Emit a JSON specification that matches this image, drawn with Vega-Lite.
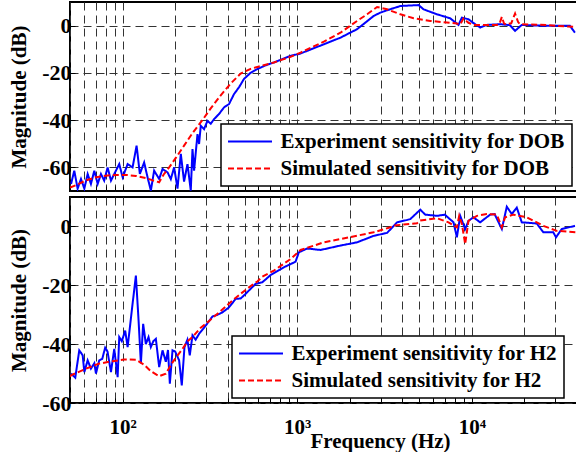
{
  "$schema": "https://vega.github.io/schema/vega-lite/v6.json",
  "padding": {"left": 7, "top": 1, "right": 0, "bottom": 0},
  "background": "white",
  "bounds": "flush",
  "spacing": 6,
  "datasets": {
    "dob": [
      {"s":"Experiment sensitivity for DOB","f":50.7,"db":-67},{"s":"Experiment sensitivity for DOB","f":52.9,"db":-61.4},{"s":"Experiment sensitivity for DOB","f":55.3,"db":-69},{"s":"Experiment sensitivity for DOB","f":57.8,"db":-64.9},{"s":"Experiment sensitivity for DOB","f":60.4,"db":-69},{"s":"Experiment sensitivity for DOB","f":63.1,"db":-62.8},{"s":"Experiment sensitivity for DOB","f":65.9,"db":-67},{"s":"Experiment sensitivity for DOB","f":68.9,"db":-61.4},{"s":"Experiment sensitivity for DOB","f":72,"db":-67},{"s":"Experiment sensitivity for DOB","f":75.2,"db":-62.8},{"s":"Experiment sensitivity for DOB","f":78.5,"db":-65.6},{"s":"Experiment sensitivity for DOB","f":82.1,"db":-60},{"s":"Experiment sensitivity for DOB","f":85.8,"db":-65.6},{"s":"Experiment sensitivity for DOB","f":91.6,"db":-61.4},{"s":"Experiment sensitivity for DOB","f":95.7,"db":-58.6},{"s":"Experiment sensitivity for DOB","f":100.1,"db":-64.2},{"s":"Experiment sensitivity for DOB","f":106.9,"db":-58.6},{"s":"Experiment sensitivity for DOB","f":114.1,"db":-60},{"s":"Experiment sensitivity for DOB","f":120.3,"db":-50.8},{"s":"Experiment sensitivity for DOB","f":125.6,"db":-62.8},{"s":"Experiment sensitivity for DOB","f":132.9,"db":-57.9},{"s":"Experiment sensitivity for DOB","f":139,"db":-64.2},{"s":"Experiment sensitivity for DOB","f":145.2,"db":-69.8},{"s":"Experiment sensitivity for DOB","f":151.6,"db":-61.4},{"s":"Experiment sensitivity for DOB","f":162,"db":-64.9},{"s":"Experiment sensitivity for DOB","f":169.4,"db":-60.7},{"s":"Experiment sensitivity for DOB","f":180.9,"db":-62.1},{"s":"Experiment sensitivity for DOB","f":188.9,"db":-65},{"s":"Experiment sensitivity for DOB","f":197.3,"db":-60},{"s":"Experiment sensitivity for DOB","f":206.3,"db":-69},{"s":"Experiment sensitivity for DOB","f":215.5,"db":-54.3},{"s":"Experiment sensitivity for DOB","f":225,"db":-66},{"s":"Experiment sensitivity for DOB","f":235.3,"db":-58.6},{"s":"Experiment sensitivity for DOB","f":245.8,"db":-69.8},{"s":"Experiment sensitivity for DOB","f":251.4,"db":-52.2},{"s":"Experiment sensitivity for DOB","f":256.7,"db":-61.4},{"s":"Experiment sensitivity for DOB","f":268.5,"db":-45.9},{"s":"Experiment sensitivity for DOB","f":274.2,"db":-50.1},{"s":"Experiment sensitivity for DOB","f":280.4,"db":-42.4},{"s":"Experiment sensitivity for DOB","f":292.8,"db":-43.8},{"s":"Experiment sensitivity for DOB","f":306.2,"db":-40.3},{"s":"Experiment sensitivity for DOB","f":320,"db":-41.5},{"s":"Experiment sensitivity for DOB","f":334,"db":-39.6},{"s":"Experiment sensitivity for DOB","f":356.7,"db":-37.4},{"s":"Experiment sensitivity for DOB","f":381,"db":-34.6},{"s":"Experiment sensitivity for DOB","f":406.9,"db":-33.2},{"s":"Experiment sensitivity for DOB","f":434.6,"db":-29},{"s":"Experiment sensitivity for DOB","f":465,"db":-26},{"s":"Experiment sensitivity for DOB","f":495.4,"db":-22.6},{"s":"Experiment sensitivity for DOB","f":540,"db":-20},{"s":"Experiment sensitivity for DOB","f":591,"db":-18.4},{"s":"Experiment sensitivity for DOB","f":660,"db":-16.8},{"s":"Experiment sensitivity for DOB","f":735,"db":-15.6},{"s":"Experiment sensitivity for DOB","f":820,"db":-14.2},{"s":"Experiment sensitivity for DOB","f":916,"db":-12.8},{"s":"Experiment sensitivity for DOB","f":1045,"db":-11.8},{"s":"Experiment sensitivity for DOB","f":1220,"db":-9.8},{"s":"Experiment sensitivity for DOB","f":1421,"db":-7.9},{"s":"Experiment sensitivity for DOB","f":1768,"db":-5.1},{"s":"Experiment sensitivity for DOB","f":2203,"db":-1.5},{"s":"Experiment sensitivity for DOB","f":2741,"db":4.1},{"s":"Experiment sensitivity for DOB","f":2993,"db":5.5},{"s":"Experiment sensitivity for DOB","f":3270,"db":6.5},{"s":"Experiment sensitivity for DOB","f":3896,"db":8.3},{"s":"Experiment sensitivity for DOB","f":4955,"db":8.7},{"s":"Experiment sensitivity for DOB","f":5291,"db":6.9},{"s":"Experiment sensitivity for DOB","f":6313,"db":4.8},{"s":"Experiment sensitivity for DOB","f":7518,"db":3.1},{"s":"Experiment sensitivity for DOB","f":8385,"db":0.3},{"s":"Experiment sensitivity for DOB","f":8768,"db":3.4},{"s":"Experiment sensitivity for DOB","f":9562,"db":2.7},{"s":"Experiment sensitivity for DOB","f":10444,"db":0.6},{"s":"Experiment sensitivity for DOB","f":11155,"db":-0.8},{"s":"Experiment sensitivity for DOB","f":12187,"db":0.3},{"s":"Experiment sensitivity for DOB","f":14520,"db":0.6},{"s":"Experiment sensitivity for DOB","f":16500,"db":0.2},{"s":"Experiment sensitivity for DOB","f":17680,"db":-2.2},{"s":"Experiment sensitivity for DOB","f":19310,"db":0.3},{"s":"Experiment sensitivity for DOB","f":26830,"db":-0.1},{"s":"Experiment sensitivity for DOB","f":31960,"db":-0.1},{"s":"Experiment sensitivity for DOB","f":36460,"db":-0.1},{"s":"Experiment sensitivity for DOB","f":38940,"db":-3.0},
      {"s":"Simulated sensitivity for DOB","f":50,"db":-68.6},{"s":"Simulated sensitivity for DOB","f":54.1,"db":-67.5},{"s":"Simulated sensitivity for DOB","f":61.8,"db":-65.5},{"s":"Simulated sensitivity for DOB","f":70.4,"db":-64.2},{"s":"Simulated sensitivity for DOB","f":80.3,"db":-63.5},{"s":"Simulated sensitivity for DOB","f":91.6,"db":-63.2},{"s":"Simulated sensitivity for DOB","f":104.5,"db":-63.2},{"s":"Simulated sensitivity for DOB","f":119.2,"db":-63.6},{"s":"Simulated sensitivity for DOB","f":135.9,"db":-64.5},{"s":"Simulated sensitivity for DOB","f":148.9,"db":-65.5},{"s":"Simulated sensitivity for DOB","f":162,"db":-66.3},{"s":"Simulated sensitivity for DOB","f":172,"db":-63},{"s":"Simulated sensitivity for DOB","f":184.8,"db":-60},{"s":"Simulated sensitivity for DOB","f":201.7,"db":-56},{"s":"Simulated sensitivity for DOB","f":225,"db":-50.8},{"s":"Simulated sensitivity for DOB","f":251.4,"db":-45.5},{"s":"Simulated sensitivity for DOB","f":286.6,"db":-40},{"s":"Simulated sensitivity for DOB","f":319.7,"db":-35},{"s":"Simulated sensitivity for DOB","f":364.8,"db":-29.5},{"s":"Simulated sensitivity for DOB","f":416,"db":-24.5},{"s":"Simulated sensitivity for DOB","f":474.3,"db":-20.3},{"s":"Simulated sensitivity for DOB","f":541,"db":-18.3},{"s":"Simulated sensitivity for DOB","f":591,"db":-17.5},{"s":"Simulated sensitivity for DOB","f":735,"db":-15.6},{"s":"Simulated sensitivity for DOB","f":916,"db":-13.2},{"s":"Simulated sensitivity for DOB","f":1045,"db":-11.4},{"s":"Simulated sensitivity for DOB","f":1421,"db":-6.8},{"s":"Simulated sensitivity for DOB","f":1768,"db":-3.0},{"s":"Simulated sensitivity for DOB","f":2203,"db":2.0},{"s":"Simulated sensitivity for DOB","f":2513,"db":4.8},{"s":"Simulated sensitivity for DOB","f":2866,"db":7.9},{"s":"Simulated sensitivity for DOB","f":3270,"db":6.9},{"s":"Simulated sensitivity for DOB","f":3896,"db":4.8},{"s":"Simulated sensitivity for DOB","f":4640,"db":3.1},{"s":"Simulated sensitivity for DOB","f":5780,"db":2.0},{"s":"Simulated sensitivity for DOB","f":7199,"db":1.3},{"s":"Simulated sensitivity for DOB","f":8200,"db":0.9},{"s":"Simulated sensitivity for DOB","f":8574,"db":0.5},{"s":"Simulated sensitivity for DOB","f":8954,"db":3.0},{"s":"Simulated sensitivity for DOB","f":9562,"db":1.2},{"s":"Simulated sensitivity for DOB","f":10213,"db":0.3},{"s":"Simulated sensitivity for DOB","f":13900,"db":0.3},{"s":"Simulated sensitivity for DOB","f":14400,"db":0.8},{"s":"Simulated sensitivity for DOB","f":14850,"db":3.7},{"s":"Simulated sensitivity for DOB","f":15300,"db":0.8},{"s":"Simulated sensitivity for DOB","f":15850,"db":0.6},{"s":"Simulated sensitivity for DOB","f":16800,"db":1.0},{"s":"Simulated sensitivity for DOB","f":17680,"db":5.1},{"s":"Simulated sensitivity for DOB","f":18400,"db":1.5},{"s":"Simulated sensitivity for DOB","f":18880,"db":0.6},{"s":"Simulated sensitivity for DOB","f":26830,"db":0.3},{"s":"Simulated sensitivity for DOB","f":30610,"db":-0.1},{"s":"Simulated sensitivity for DOB","f":38080,"db":-0.5},{"s":"Simulated sensitivity for DOB","f":40000,"db":-0.6}
    ],
    "h2": [
      {"s":"Experiment sensitivity for H2","f":50.7,"db":-50},{"s":"Experiment sensitivity for H2","f":53.6,"db":-51.4},{"s":"Experiment sensitivity for H2","f":56.5,"db":-42.1},{"s":"Experiment sensitivity for H2","f":59.1,"db":-43.8},{"s":"Experiment sensitivity for H2","f":60.4,"db":-49.5},{"s":"Experiment sensitivity for H2","f":63.1,"db":-45.5},{"s":"Experiment sensitivity for H2","f":65.9,"db":-48.3},{"s":"Experiment sensitivity for H2","f":68.9,"db":-46.5},{"s":"Experiment sensitivity for H2","f":70.4,"db":-50},{"s":"Experiment sensitivity for H2","f":73.5,"db":-45.5},{"s":"Experiment sensitivity for H2","f":76.5,"db":-45},{"s":"Experiment sensitivity for H2","f":79.5,"db":-41.2},{"s":"Experiment sensitivity for H2","f":82,"db":-42.5},{"s":"Experiment sensitivity for H2","f":85.8,"db":-49.5},{"s":"Experiment sensitivity for H2","f":89.6,"db":-41.6},{"s":"Experiment sensitivity for H2","f":93.7,"db":-51.2},{"s":"Experiment sensitivity for H2","f":95.7,"db":-37.6},{"s":"Experiment sensitivity for H2","f":99,"db":-39},{"s":"Experiment sensitivity for H2","f":103.5,"db":-35.4},{"s":"Experiment sensitivity for H2","f":106.9,"db":-41},{"s":"Experiment sensitivity for H2","f":114.1,"db":-26.3},{"s":"Experiment sensitivity for H2","f":119.2,"db":-16.7},{"s":"Experiment sensitivity for H2","f":123.5,"db":-32},{"s":"Experiment sensitivity for H2","f":127.3,"db":-46.6},{"s":"Experiment sensitivity for H2","f":131.2,"db":-33.1},{"s":"Experiment sensitivity for H2","f":135.9,"db":-40},{"s":"Experiment sensitivity for H2","f":140.8,"db":-37.6},{"s":"Experiment sensitivity for H2","f":145.2,"db":-41},{"s":"Experiment sensitivity for H2","f":150,"db":-39},{"s":"Experiment sensitivity for H2","f":155.1,"db":-38.2},{"s":"Experiment sensitivity for H2","f":162,"db":-47.8},{"s":"Experiment sensitivity for H2","f":169.4,"db":-42.1},{"s":"Experiment sensitivity for H2","f":176.9,"db":-46},{"s":"Experiment sensitivity for H2","f":182,"db":-42},{"s":"Experiment sensitivity for H2","f":186.5,"db":-53.4},{"s":"Experiment sensitivity for H2","f":193.2,"db":-42.1},{"s":"Experiment sensitivity for H2","f":200,"db":-42.5},{"s":"Experiment sensitivity for H2","f":210.7,"db":-45.5},{"s":"Experiment sensitivity for H2","f":218.3,"db":-54},{"s":"Experiment sensitivity for H2","f":226.2,"db":-41},{"s":"Experiment sensitivity for H2","f":235,"db":-38.5},{"s":"Experiment sensitivity for H2","f":242.6,"db":-43.8},{"s":"Experiment sensitivity for H2","f":251.4,"db":-37},{"s":"Experiment sensitivity for H2","f":262,"db":-38.5},{"s":"Experiment sensitivity for H2","f":274.2,"db":-36.5},{"s":"Experiment sensitivity for H2","f":299.4,"db":-33.7},{"s":"Experiment sensitivity for H2","f":327,"db":-30.6},{"s":"Experiment sensitivity for H2","f":350,"db":-30},{"s":"Experiment sensitivity for H2","f":373.1,"db":-29.2},{"s":"Experiment sensitivity for H2","f":406.9,"db":-27.5},{"s":"Experiment sensitivity for H2","f":444.4,"db":-24.6},{"s":"Experiment sensitivity for H2","f":474.3,"db":-24.5},{"s":"Experiment sensitivity for H2","f":506.6,"db":-22.9},{"s":"Experiment sensitivity for H2","f":578,"db":-19.5},{"s":"Experiment sensitivity for H2","f":631,"db":-19},{"s":"Experiment sensitivity for H2","f":704,"db":-16.5},{"s":"Experiment sensitivity for H2","f":838,"db":-13.9},{"s":"Experiment sensitivity for H2","f":978,"db":-12},{"s":"Experiment sensitivity for H2","f":1022,"db":-8.8},{"s":"Experiment sensitivity for H2","f":1141,"db":-7.5},{"s":"Experiment sensitivity for H2","f":1360,"db":-8},{"s":"Experiment sensitivity for H2","f":1768,"db":-6.5},{"s":"Experiment sensitivity for H2","f":2203,"db":-5.4},{"s":"Experiment sensitivity for H2","f":2741,"db":-3.2},{"s":"Experiment sensitivity for H2","f":3270,"db":-2.2},{"s":"Experiment sensitivity for H2","f":3731,"db":1.4},{"s":"Experiment sensitivity for H2","f":4254,"db":2.2},{"s":"Experiment sensitivity for H2","f":4443,"db":2.5},{"s":"Experiment sensitivity for H2","f":5066,"db":5.7},{"s":"Experiment sensitivity for H2","f":5411,"db":4},{"s":"Experiment sensitivity for H2","f":6313,"db":3.6},{"s":"Experiment sensitivity for H2","f":7000,"db":4.0},{"s":"Experiment sensitivity for H2","f":7851,"db":1.4},{"s":"Experiment sensitivity for H2","f":8209,"db":-3.7},{"s":"Experiment sensitivity for H2","f":8574,"db":3.6},{"s":"Experiment sensitivity for H2","f":9157,"db":-0.9},{"s":"Experiment sensitivity for H2","f":9562,"db":1.9},{"s":"Experiment sensitivity for H2","f":10213,"db":3.1},{"s":"Experiment sensitivity for H2","f":11155,"db":1.4},{"s":"Experiment sensitivity for H2","f":12727,"db":4},{"s":"Experiment sensitivity for H2","f":13500,"db":4.2},{"s":"Experiment sensitivity for H2","f":14850,"db":-0.9},{"s":"Experiment sensitivity for H2","f":15850,"db":6.7},{"s":"Experiment sensitivity for H2","f":16930,"db":4.2},{"s":"Experiment sensitivity for H2","f":18080,"db":6.4},{"s":"Experiment sensitivity for H2","f":19310,"db":1.4},{"s":"Experiment sensitivity for H2","f":23530,"db":1},{"s":"Experiment sensitivity for H2","f":25660,"db":-2},{"s":"Experiment sensitivity for H2","f":29270,"db":-2},{"s":"Experiment sensitivity for H2","f":30330,"db":-3.7},{"s":"Experiment sensitivity for H2","f":32690,"db":-0.9},{"s":"Experiment sensitivity for H2","f":38940,"db":0.2},
      {"s":"Simulated sensitivity for H2","f":50,"db":-51},{"s":"Simulated sensitivity for H2","f":50.7,"db":-50.6},{"s":"Simulated sensitivity for H2","f":61.8,"db":-48.3},{"s":"Simulated sensitivity for H2","f":73.5,"db":-46.6},{"s":"Simulated sensitivity for H2","f":87.7,"db":-45.8},{"s":"Simulated sensitivity for H2","f":102.2,"db":-45.2},{"s":"Simulated sensitivity for H2","f":119.2,"db":-45.3},{"s":"Simulated sensitivity for H2","f":132.9,"db":-47},{"s":"Simulated sensitivity for H2","f":145.2,"db":-49.2},{"s":"Simulated sensitivity for H2","f":162,"db":-50.9},{"s":"Simulated sensitivity for H2","f":176.9,"db":-50},{"s":"Simulated sensitivity for H2","f":193.2,"db":-46.2},{"s":"Simulated sensitivity for H2","f":220.3,"db":-41.6},{"s":"Simulated sensitivity for H2","f":235.3,"db":-39},{"s":"Simulated sensitivity for H2","f":251.4,"db":-37.6},{"s":"Simulated sensitivity for H2","f":280.4,"db":-34.4},{"s":"Simulated sensitivity for H2","f":299.4,"db":-33.1},{"s":"Simulated sensitivity for H2","f":356.7,"db":-29.2},{"s":"Simulated sensitivity for H2","f":425.5,"db":-25.2},{"s":"Simulated sensitivity for H2","f":474.3,"db":-22.9},{"s":"Simulated sensitivity for H2","f":529.1,"db":-20.7},{"s":"Simulated sensitivity for H2","f":591,"db":-18.7},{"s":"Simulated sensitivity for H2","f":631,"db":-17.1},{"s":"Simulated sensitivity for H2","f":735,"db":-15},{"s":"Simulated sensitivity for H2","f":916,"db":-11.1},{"s":"Simulated sensitivity for H2","f":1045,"db":-8},{"s":"Simulated sensitivity for H2","f":1421,"db":-5.4},{"s":"Simulated sensitivity for H2","f":1768,"db":-4.3},{"s":"Simulated sensitivity for H2","f":2741,"db":-2},{"s":"Simulated sensitivity for H2","f":3416,"db":-0.3},{"s":"Simulated sensitivity for H2","f":3567,"db":0.3},{"s":"Simulated sensitivity for H2","f":4852,"db":1.1},{"s":"Simulated sensitivity for H2","f":5066,"db":2},{"s":"Simulated sensitivity for H2","f":6313,"db":2.8},{"s":"Simulated sensitivity for H2","f":7352,"db":1.4},{"s":"Simulated sensitivity for H2","f":8209,"db":-0.3},{"s":"Simulated sensitivity for H2","f":8462,"db":3.6},{"s":"Simulated sensitivity for H2","f":8768,"db":0.8},{"s":"Simulated sensitivity for H2","f":9157,"db":-6},{"s":"Simulated sensitivity for H2","f":9562,"db":1.9},{"s":"Simulated sensitivity for H2","f":10680,"db":3.6},{"s":"Simulated sensitivity for H2","f":12187,"db":4.2},{"s":"Simulated sensitivity for H2","f":13900,"db":4},{"s":"Simulated sensitivity for H2","f":14850,"db":-0.3},{"s":"Simulated sensitivity for H2","f":15500,"db":3.1},{"s":"Simulated sensitivity for H2","f":17290,"db":4},{"s":"Simulated sensitivity for H2","f":20620,"db":3.1},{"s":"Simulated sensitivity for H2","f":25660,"db":0.2},{"s":"Simulated sensitivity for H2","f":30610,"db":-1.5},{"s":"Simulated sensitivity for H2","f":40000,"db":-2}
    ]
  },
  "config": {
    "view": {"stroke": "black", "strokeWidth": 2},
    "axis": {
      "labelFont": "Liberation Serif", "labelFontWeight": "bold", "labelFontSize": 22, "labelColor": "black",
      "titleFont": "Liberation Serif", "titleFontWeight": "bold", "titleFontSize": 21, "titleColor": "black",
      "domain": false, "grid": true, "gridColor": "#333333", "gridDash": [8, 5], "gridWidth": 1, "gridOpacity": 1,
      "tickColor": "black", "tickSize": -5, "tickWidth": 1
    },
    "legend": {
      "labelFont": "Liberation Serif", "labelFontWeight": "bold", "labelFontSize": 21, "labelColor": "black",
      "symbolType": "M-4,0H4", "symbolSize": 121, "symbolStrokeWidth": 2, "symbolOffset": 11.5, "labelOffset": 20,
      "rowPadding": 5, "padding": 7, "strokeColor": "black", "strokeWidth": 1.5, "fillColor": "white", "labelLimit": 0
    }
  },
  "vconcat": [
    {
      "width": 507, "height": 189,
      "data": {"name": "dob"},
      "mark": {"type": "line", "strokeWidth": 2, "clip": true},
      "encoding": {
        "x": {"field": "f", "type": "quantitative",
          "scale": {"type": "log", "domain": [50, 40000], "nice": false},
          "axis": {"values": [50,60,70,80,90,100,200,300,400,500,600,700,800,900,1000,2000,3000,4000,5000,6000,7000,8000,9000,10000,20000,30000,40000], "labels": false, "title": null}},
        "y": {"field": "db", "type": "quantitative",
          "scale": {"domain": [-70, 10], "nice": false, "zero": false},
          "axis": {"values": [-60, -40, -20, 0], "labelExpr": "'' + datum.value", "title": "Magnitude (dB)", "labelPadding": 4, "titlePadding": 12}},
        "color": {"field": "s", "type": "nominal",
          "scale": {"domain": ["Experiment sensitivity for DOB", "Simulated sensitivity for DOB"], "range": ["#0000ff", "#ff0000"]},
          "legend": {"title": null, "orient": "none", "legendX": 151, "legendY": 122}},
        "strokeDash": {"field": "s", "type": "nominal",
          "scale": {"domain": ["Experiment sensitivity for DOB", "Simulated sensitivity for DOB"], "range": [[1, 0], [6, 3]]},
          "legend": {"title": null, "orient": "none", "legendX": 151, "legendY": 122}}
      }
    },
    {
      "width": 507, "height": 206,
      "data": {"name": "h2"},
      "mark": {"type": "line", "strokeWidth": 2, "clip": true},
      "encoding": {
        "x": {"field": "f", "type": "quantitative",
          "scale": {"type": "log", "domain": [50, 40000], "nice": false},
          "axis": {"values": [50,60,70,80,90,100,200,300,400,500,600,700,800,900,1000,2000,3000,4000,5000,6000,7000,8000,9000,10000,20000,30000,40000],
            "labelExpr": "datum.value == 100 ? '10²' : datum.value == 1000 ? '10³' : datum.value == 10000 ? '10⁴' : ''",
            "labelOverlap": false, "labelFlush": false, "labelPadding": 18, "labelFontSize": 21,
            "title": "Frequency (Hz)", "titleX": 310, "titleY": 44, "titleBaseline": "alphabetic"}},
        "y": {"field": "db", "type": "quantitative",
          "scale": {"domain": [-60, 10], "nice": false, "zero": false},
          "axis": {"values": [-60, -40, -20, 0], "labelExpr": "'' + datum.value", "title": "Magnitude (dB)", "labelPadding": 4, "titlePadding": 12}},
        "color": {"field": "s", "type": "nominal",
          "scale": {"domain": ["Experiment sensitivity for H2", "Simulated sensitivity for H2"], "range": ["#0000ff", "#ff0000"]},
          "legend": {"title": null, "orient": "none", "legendX": 162, "legendY": 139}},
        "strokeDash": {"field": "s", "type": "nominal",
          "scale": {"domain": ["Experiment sensitivity for H2", "Simulated sensitivity for H2"], "range": [[1, 0], [6, 3]]},
          "legend": {"title": null, "orient": "none", "legendX": 162, "legendY": 139}}
      }
    }
  ],
  "resolve": {
    "scale": {"color": "independent", "strokeDash": "independent", "y": "independent"},
    "legend": {"color": "independent", "strokeDash": "independent"}
  }
}
